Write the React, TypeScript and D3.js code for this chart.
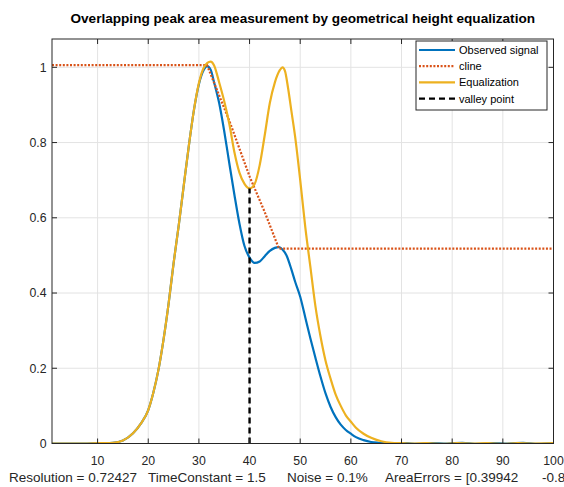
import React from 'react';
import * as d3 from 'd3';

const TITLE = 'Overlapping peak area measurement by geometrical height equalization';
const XLABEL_PARTS = ['Resolution = 0.72427', 'TimeConstant = 1.5', 'Noise = 0.1%', 'AreaErrors = [0.39942', '-0.80976]'];
const XLABEL_STARTS = [9, 148, 287, 385, 542];
const xTicks = [10, 20, 30, 40, 50, 60, 70, 80, 90, 100];
const yTicks = [0, 0.2, 0.4, 0.6, 0.8, 1];
const legendLabels = ['Observed signal', 'cline', 'Equalization', 'valley point'];

const observed: [number, number][] = [
  [1, 0], [8, 0], [11, 0.001], [13, 0.002], [15, 0.008], [17, 0.027], [18.5, 0.052], [20, 0.089],
  [21, 0.135], [22, 0.195], [23, 0.275], [24, 0.37], [25, 0.479], [26, 0.578], [27, 0.685],
  [28, 0.79], [29, 0.885], [30, 0.955], [31, 0.994], [31.6, 1.003], [32.3, 0.994], [33, 0.96],
  [34, 0.905], [35, 0.83], [36, 0.745], [37, 0.662], [38, 0.585], [39, 0.525], [40, 0.494],
  [41, 0.48], [42, 0.484], [43, 0.498], [44, 0.512], [45, 0.52], [45.8, 0.522], [46.5, 0.516],
  [47.3, 0.5], [48.3, 0.461], [49, 0.43], [50, 0.39], [51, 0.335], [52, 0.28], [53, 0.228],
  [54, 0.178], [55, 0.133], [56, 0.097], [57, 0.07], [58, 0.05], [59, 0.036], [60, 0.026],
  [61, 0.017], [62.5, 0.009], [64, 0.004], [65.5, 0.002], [67, 0.001], [69, 0.0], [71, 0.001],
  [73, -0.001], [76, 0.001], [79, 0.0], [82, 0.002], [85, -0.001], [88, 0.001], [91, 0.0],
  [94, 0.002], [97, -0.001], [100, 0.001],
];

const equalization: [number, number][] = [
  [1, 0], [8, 0], [11, 0.001], [13, 0.002], [15, 0.008], [17, 0.027], [18.5, 0.052], [20, 0.089],
  [21, 0.135], [22, 0.195], [23, 0.275], [24, 0.37], [25, 0.479], [26, 0.578], [27, 0.685],
  [28, 0.79], [29, 0.885], [30, 0.958], [31, 1.0], [32.3, 1.015], [33, 1.005], [34, 0.96],
  [35, 0.91], [36, 0.85], [37, 0.775], [38, 0.72], [39, 0.69], [40, 0.678], [41, 0.69],
  [42, 0.74], [43, 0.82], [44, 0.905], [45, 0.96], [46, 0.993], [46.5, 1.0], [47, 0.99],
  [47.6, 0.945], [48.3, 0.88], [49, 0.815], [50, 0.7], [51, 0.575], [52, 0.47], [53, 0.365],
  [54, 0.285], [55, 0.22], [56, 0.172], [57, 0.13], [58, 0.1], [59, 0.075], [60, 0.058],
  [61, 0.042], [62.5, 0.026], [64, 0.015], [66, 0.006], [68, 0.002], [70, 0.001], [72, 0.0],
  [75, 0.001], [78, -0.001], [81, 0.001], [84, 0.0], [87, 0.001], [90, -0.001], [93, 0.001],
  [96, 0.0], [100, 0.001],
];

const cline: [number, number][] = [
  [1, 1.006], [31.6, 1.006], [36, 0.858], [40, 0.71], [43, 0.615], [45.8, 0.518], [100, 0.518],
];

const valley: [number, number][] = [
  [40, 0], [40, 0.678],
];

const COLORS = ['#0072BD', '#D95319', '#EDB120', '#000000'];
const FONT = '"Liberation Sans", Arial, Helvetica, sans-serif';
const AX = '#262626';

export default function App() {
  const W = 564, H = 487;
  const L = 52, R = 553.5, T = 39, B = 443.5;
  const x = d3.scaleLinear().domain([1, 100]).range([L, R]);
  const y = d3.scaleLinear().domain([0, 1.0753]).range([B, T]);
  const smooth = d3.line<[number, number]>().x(d => x(d[0])).y(d => y(d[1])).curve(d3.curveMonotoneX);
  const straight = d3.line<[number, number]>().x(d => x(d[0])).y(d => y(d[1]));

  const lgX = 416, lgY = 41, lgW = 131, lgH = 69;
  const rowY = (i: number) => lgY + 9 + i * 16.2;

  return (
    <svg width={W} height={H} style={{ position: 'absolute', left: 0, top: 0, background: '#fff' }} fontFamily={FONT}>
      <rect x={0} y={0} width={W} height={H} fill="#fff" />
      <rect x={L} y={T} width={R - L} height={B - T} fill="#fff" />
      {xTicks.map(t => (
        <line key={'gx' + t} x1={x(t)} x2={x(t)} y1={T} y2={B} stroke="#e3e3e3" strokeWidth={1} />
      ))}
      {yTicks.map(t => (
        <line key={'gy' + t} x1={L} x2={R} y1={y(t)} y2={y(t)} stroke="#e3e3e3" strokeWidth={1} />
      ))}
      <clipPath id="plot">
        <rect x={L} y={T - 2} width={R - L} height={B - T + 2} />
      </clipPath>
      <g clipPath="url(#plot)">
        <path d={smooth(observed) || ''} fill="none" stroke={COLORS[0]} strokeWidth={2.2} />
        <path d={straight(cline) || ''} fill="none" stroke={COLORS[1]} strokeWidth={2.2} strokeDasharray="2,1.6" />
        <path d={smooth(equalization) || ''} fill="none" stroke={COLORS[2]} strokeWidth={2.2} />
        <path d={straight(valley) || ''} fill="none" stroke={COLORS[3]} strokeWidth={2.4} strokeDasharray="6,4" />
      </g>
      <rect x={L} y={T} width={R - L} height={B - T} fill="none" stroke={AX} strokeWidth={1} />
      {xTicks.map(t => (
        <g key={'tx' + t}>
          <line x1={x(t)} x2={x(t)} y1={B} y2={B - 5} stroke={AX} />
          <line x1={x(t)} x2={x(t)} y1={T} y2={T + 5} stroke={AX} />
          <text x={x(t)} y={B + 21} textAnchor="middle" fontSize={12.3} fill={AX}>{t}</text>
        </g>
      ))}
      {yTicks.map(t => (
        <g key={'ty' + t}>
          <line x1={L} x2={L + 5} y1={y(t)} y2={y(t)} stroke={AX} />
          <line x1={R} x2={R - 5} y1={y(t)} y2={y(t)} stroke={AX} />
          <text x={L - 5.5} y={y(t) + 4.3} textAnchor="end" fontSize={12.3} fill={AX}>{t}</text>
        </g>
      ))}
      <text x={(L + R) / 2} y={23} textAnchor="middle" fontSize={13.6} fontWeight="bold" fill="#000">{TITLE}</text>
      <text y={482} fontSize={13.5} fill={AX}>
        {XLABEL_PARTS.map((s, i) => (
          <tspan key={s} x={XLABEL_STARTS[i]}>{s}</tspan>
        ))}
      </text>
      <rect x={lgX} y={lgY} width={lgW} height={lgH} fill="#fff" stroke={AX} strokeWidth={1} />
      {legendLabels.map((lab, i) => (
        <g key={lab}>
          <line x1={lgX + 3} x2={lgX + 39} y1={rowY(i)} y2={rowY(i)} stroke={COLORS[i]} strokeWidth={2.2}
            strokeDasharray={i === 1 ? '2,1.6' : i === 3 ? '6,4' : undefined} />
          <text x={lgX + 43} y={rowY(i) + 4} fontSize={11} fill="#000">{lab}</text>
        </g>
      ))}
    </svg>
  );
}
